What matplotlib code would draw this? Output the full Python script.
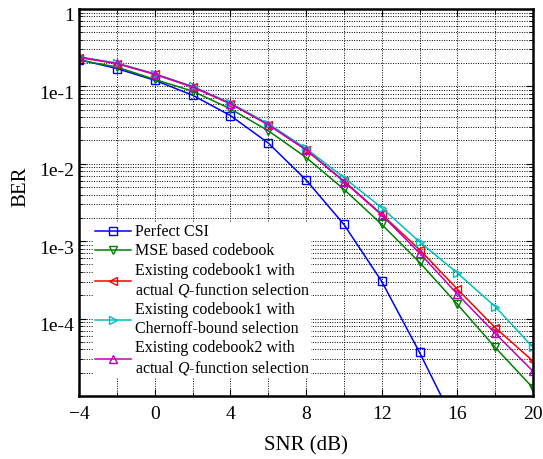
import matplotlib
matplotlib.use("Agg")
import matplotlib.pyplot as plt
import matplotlib.transforms as mtransforms
import numpy as np

plt.rcParams['font.family'] = ['Liberation Serif', 'DejaVu Serif']
plt.rcParams['mathtext.fontset'] = 'custom'
plt.rcParams['mathtext.it'] = 'Liberation Serif:italic'
plt.rcParams['mathtext.rm'] = 'Liberation Serif'

snr = [-4, -2, 0, 2, 4, 6, 8, 10, 12, 14, 16, 18, 20]
snr_perfect = [-4, -2, 0, 2, 4, 6, 8, 10, 12, 14, 16]

ber_perfect = [0.222, 0.170, 0.120, 0.077, 0.042, 0.0186, 0.0062, 0.00165, 3.03e-4, 3.66e-5, 3.8e-6]
ber_mse = [0.218, 0.178, 0.123, 0.0869, 0.0513, 0.0268, 0.0121, 0.00469, 0.00165, 5.33e-4, 1.53e-4, 4.24e-5, 1.27e-5]
ber_cb1_q = [0.236, 0.197, 0.143, 0.098, 0.0596, 0.0321, 0.0151, 0.0060, 0.00222, 7.8e-4, 2.40e-4, 7.64e-5, 2.82e-5]
ber_cb1_chernoff = [0.240, 0.200, 0.145, 0.100, 0.061, 0.033, 0.0158, 0.00664, 0.00271, 9.8e-4, 3.88e-4, 1.43e-4, 4.24e-5]
ber_cb2_q = [0.240, 0.198, 0.145, 0.099, 0.060, 0.032, 0.0152, 0.0059, 0.00218, 7.05e-4, 2.07e-4, 6.45e-5, 2.09e-5]

labels = [
    "Perfect CSI",
    "MSE based codebook",
    "Existing codebook1 with\nactual $Q$-function selection",
    "Existing codebook1 with\nChernoff-bound selection",
    "Existing codebook2 with\nactual $Q$-function selection",
]

x_ticks = [-4, 0, 4, 8, 12, 16, 20]
y_ticks = [1e-4, 1e-3, 1e-2, 1e-1, 1]
y_ticklabels = ["1e-4", "1e-3", "1e-2", "1e-1", "1"]

fig = plt.figure(figsize=(5.43, 4.59), dpi=100)
ax = fig.add_axes([0.1455, 0.1373, 0.9816 - 0.1455, 0.9804 - 0.1373])

series = [
    (snr_perfect, ber_perfect, (0, 0, 1), 's'),
    (snr, ber_mse, (0, 0.5, 0), 'v'),
    (snr, ber_cb1_q, (1, 0, 0), '<'),
    (snr, ber_cb1_chernoff, (0, 0.75, 0.75), '>'),
    (snr, ber_cb2_q, (0.75, 0, 0.75), '^'),
]
for (xs, ys, c, m), lab in zip(series, labels):
    ax.semilogy(xs, ys, color=c, marker=m, markerfacecolor='none',
                markeredgecolor=c, markersize=5.5, linewidth=1.1,
                markeredgewidth=1.0, label=lab)

ax.set_xlim(-4, 20)
ax.set_ylim(1e-5, 1)
ax.set_xticks(np.arange(-4, 21, 2), minor=True)
ax.set_xticks(x_ticks)
ax.set_xticklabels(["\u22124" if t == -4 else str(t) for t in x_ticks])
ax.set_yticks(y_ticks)
ax.set_yticklabels(y_ticklabels)
ax.yaxis.set_minor_locator(matplotlib.ticker.LogLocator(base=10, subs=np.arange(2, 10)))
ax.yaxis.set_minor_formatter(matplotlib.ticker.NullFormatter())

ax.grid(True, which='both', linestyle=(0, (1, 1.5)), color='black', linewidth=0.7)
ax.tick_params(which='both', direction='in', top=True, right=True, labelsize=14)
ax.tick_params(which='major', length=5)
ax.tick_params(which='minor', length=3)
ax.tick_params(axis='x', which='major', pad=7)
for sp in ax.spines.values():
    sp.set_linewidth(1.8)

offset = mtransforms.ScaledTranslation(0, -6 / 100, fig.dpi_scale_trans)
for lbl in ax.get_yticklabels():
    lbl.set_transform(lbl.get_transform() + offset)

ax.set_xlabel("SNR (dB)", fontsize=15)
ax.set_ylabel("BER", fontsize=15)
ax.xaxis.set_label_coords(0.5, -0.105)
ax.yaxis.set_label_coords(-0.108, 0.54)

leg = ax.legend(loc='upper left', bbox_to_anchor=(0.031, 0.448), fontsize=11.5,
                frameon=True, fancybox=False, edgecolor='none', framealpha=1,
                handlelength=2.3, handletextpad=0.2, labelspacing=0.2,
                borderpad=0.1, borderaxespad=0)

fig.savefig("out.png", dpi=100)
